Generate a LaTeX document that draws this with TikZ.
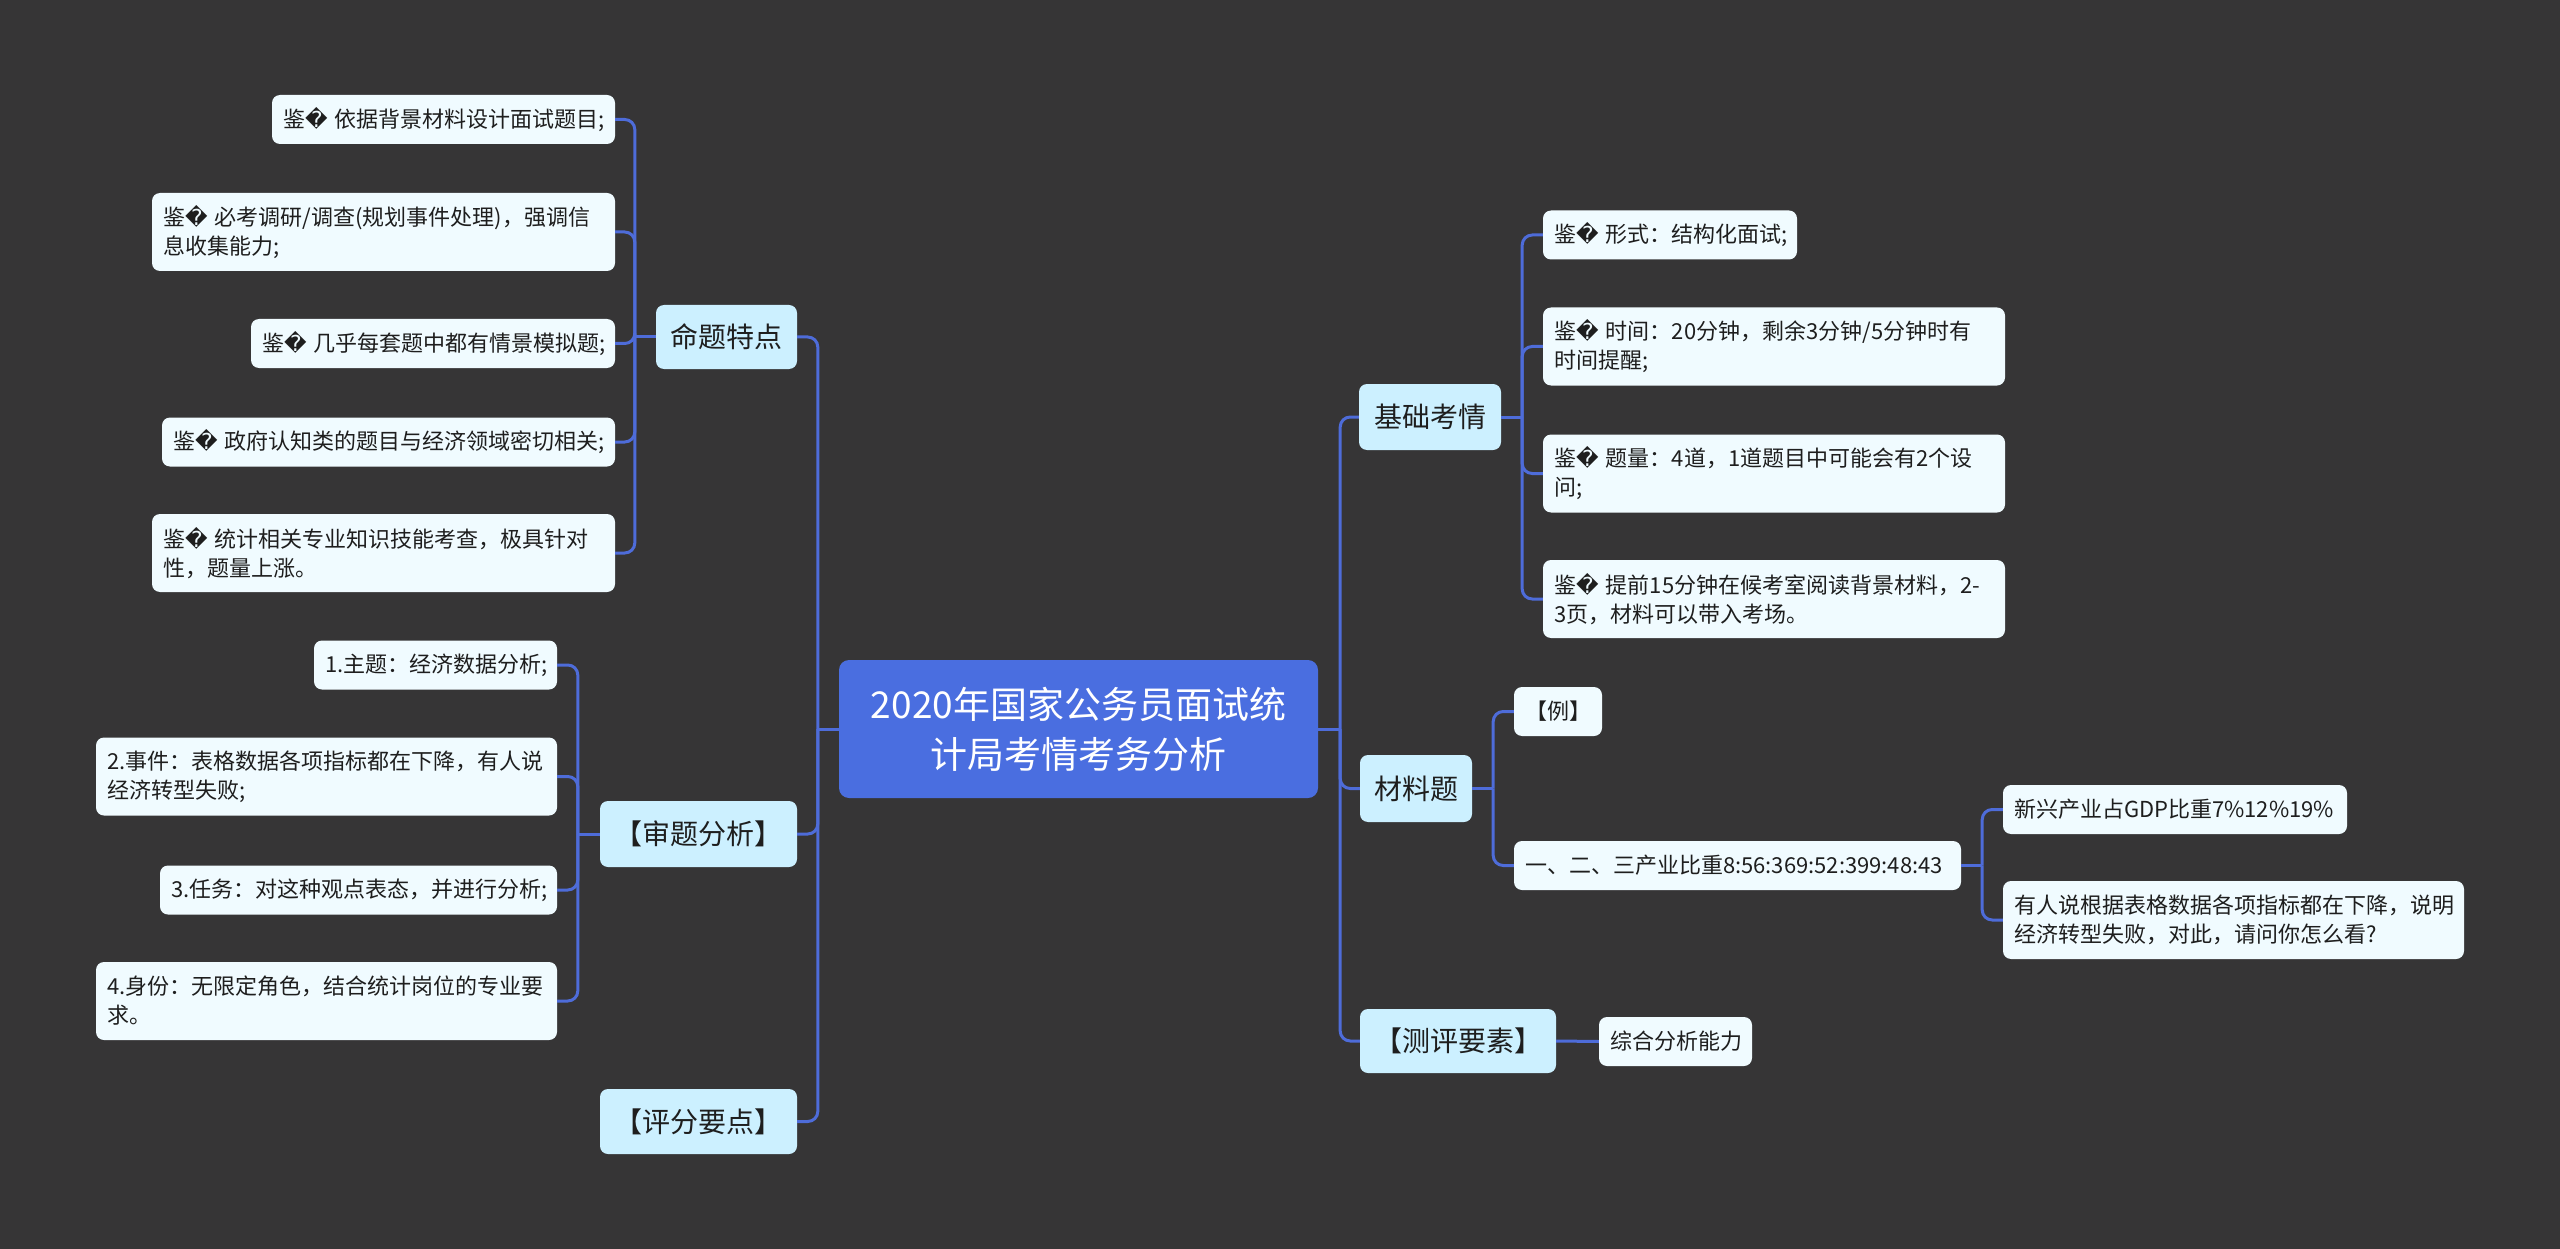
\documentclass[tikz,border=0pt]{standalone}
\usepackage{fontspec}
\setmainfont{Noto Sans CJK SC}
\newfontfamily\dvfont{DejaVu Sans}
\newcommand\repch{{\dvfont\char"FFFD}}
\newcommand\jian{鉴\repch~}
\definecolor{bgc}{HTML}{363536}
\definecolor{linec}{HTML}{4E6CD9}
\definecolor{rootc}{HTML}{4A6EE0}
\definecolor{mainc}{HTML}{CCF0FF}
\definecolor{leafc}{HTML}{F0FBFF}
\definecolor{txtc}{HTML}{1E1E1E}
\tikzset{
  leafbox/.style n args={3}{fill=leafc, rounded corners=8pt, text=txtc,
    font=\fontsize{22}{29}\selectfont, align=left, inner xsep=11pt, inner ysep=0pt,
    minimum width=#1pt, text width=#2pt, minimum height=#3pt},
  mainbox/.style n args={2}{fill=mainc, rounded corners=8pt, text=txtc,
    font=\fontsize{28}{34}\selectfont, inner sep=0pt, align=center,
    minimum width=#1pt, minimum height=#2pt},
  rootbox/.style={fill=rootc, rounded corners=10pt, text=white,
    font=\fontsize{37}{50}\selectfont, align=center, inner sep=0pt,
    text width=460pt, minimum width=479pt, minimum height=138pt},
  conn/.style={draw=linec, line width=3pt, rounded corners=10pt},
}
\begin{document}
\begin{tikzpicture}[x=1pt,y=-1pt]
\fill[bgc] (0,0) rectangle (2560,1249);
\useasboundingbox (0,0) rectangle (2560,1249);

% root
\node[rootbox] (root) at (1078.5,729) {2020年国家公务员面试统\\计局考情考务分析};

% left main
\node[mainbox={141}{64}] (mt) at (726.5,337) {命题特点};
\node[mainbox={197}{66}] (st) at (698.5,834) {【审题分析】};
\node[mainbox={197}{65}] (pf) at (698.5,1121.5) {【评分要点】};

% right main
\node[mainbox={142}{66}] (jc) at (1430,417) {基础考情};
\node[mainbox={112}{67}] (cl) at (1416,788.5) {材料题};
\node[mainbox={196}{64}] (cp) at (1458,1041) {【测评要素】};

% leaves of 命题特点
\node[leafbox={343}{321}{49}] (l1) at (443.5,119.5) {\jian 依据背景材料设计面试题目;};
\node[leafbox={463}{441}{78}] (l2) at (383.5,232) {\jian 必考调研/调查(规划事件处理)，强调信\\息收集能力;};
\node[leafbox={364}{342}{49}] (l3) at (433,343.5) {\jian 几乎每套题中都有情景模拟题;};
\node[leafbox={453}{431}{49}] (l4) at (388.5,442) {\jian 政府认知类的题目与经济领域密切相关;};
\node[leafbox={463}{441}{78}] (l5) at (383.5,553) {\jian 统计相关专业知识技能考查，极具针对\\性，题量上涨。};

% leaves of 审题分析
\node[leafbox={243}{221}{49}] (s1) at (435.5,665) {1.主题：经济数据分析;};
\node[leafbox={461}{439}{78}] (s2) at (326.5,776.5) {2.事件：表格数据各项指标都在下降，有人说\\经济转型失败;};
\node[leafbox={397}{375}{49}] (s3) at (358.5,890) {3.任务：对这种观点表态，并进行分析;};
\node[leafbox={461}{439}{78}] (s4) at (326.5,1001) {4.身份：无限定角色，结合统计岗位的专业要\\求。};

% leaves of 基础考情
\node[leafbox={254}{232}{49}] (r1) at (1670,235) {\jian 形式：结构化面试;};
\node[leafbox={462}{440}{78}] (r2) at (1774,346.5) {\jian 时间：20分钟，剩余3分钟/5分钟时有\\时间提醒;};
\node[leafbox={462}{440}{78}] (r3) at (1774,473.5) {\jian 题量：4道，1道题目中可能会有2个设\\问;};
\node[leafbox={462}{440}{78}] (r4) at (1774,599) {\jian 提前15分钟在候考室阅读背景材料，2-\\3页，材料可以带入考场。};

% leaves of 材料题
\node[leafbox={88}{66}{49}] (ex) at (1558,711.5) {【例】};
\node[leafbox={447}{425}{49}] (m2) at (1737.5,865.5) {一、二、三产业比重8:56:369:52:399:48:43};
\node[leafbox={344}{322}{49}] (g1) at (2175,809.5) {新兴产业占GDP比重7\%12\%19\%};
\node[leafbox={461}{439}{78}] (g2) at (2233.5,920) {有人说根据表格数据各项指标都在下降，说明\\经济转型失败，对此，请问你怎么看?};

% leaf of 测评要素
\node[leafbox={153}{131}{49}] (zh) at (1675.5,1041.5) {综合分析能力};

% connectors: root to left
\draw[conn] (root.west) -- ([xshift=-21pt]root.west);
\foreach \c in {mt,st,pf} \draw[conn] ([xshift=-21pt]root.west) |- (\c.east);
% root to right
\draw[conn] (root.east) -- ([xshift=22pt]root.east);
\foreach \c in {jc,cl,cp} \draw[conn] ([xshift=22pt]root.east) |- (\c.west);

% 命题特点
\draw[conn] (mt.west) -- ([xshift=-21pt]mt.west);
\foreach \c in {l1,l2,l3,l4,l5} \draw[conn] ([xshift=-21pt]mt.west) |- (\c.east);
% 审题分析
\draw[conn] (st.west) -- ([xshift=-22pt]st.west);
\foreach \c in {s1,s2,s3,s4} \draw[conn] ([xshift=-22pt]st.west) |- (\c.east);
% 基础考情
\draw[conn] (jc.east) -- ([xshift=21pt]jc.east);
\foreach \c in {r1,r2,r3,r4} \draw[conn] ([xshift=21pt]jc.east) |- (\c.west);
% 材料题
\draw[conn] (cl.east) -- ([xshift=21pt]cl.east);
\foreach \c in {ex,m2} \draw[conn] ([xshift=21pt]cl.east) |- (\c.west);
% 一二三产业
\draw[conn] (m2.east) -- ([xshift=21pt]m2.east);
\foreach \c in {g1,g2} \draw[conn] ([xshift=21pt]m2.east) |- (\c.west);
% 测评要素
\draw[conn] (cp.east) -- (zh.west);
\end{tikzpicture}
\end{document}
